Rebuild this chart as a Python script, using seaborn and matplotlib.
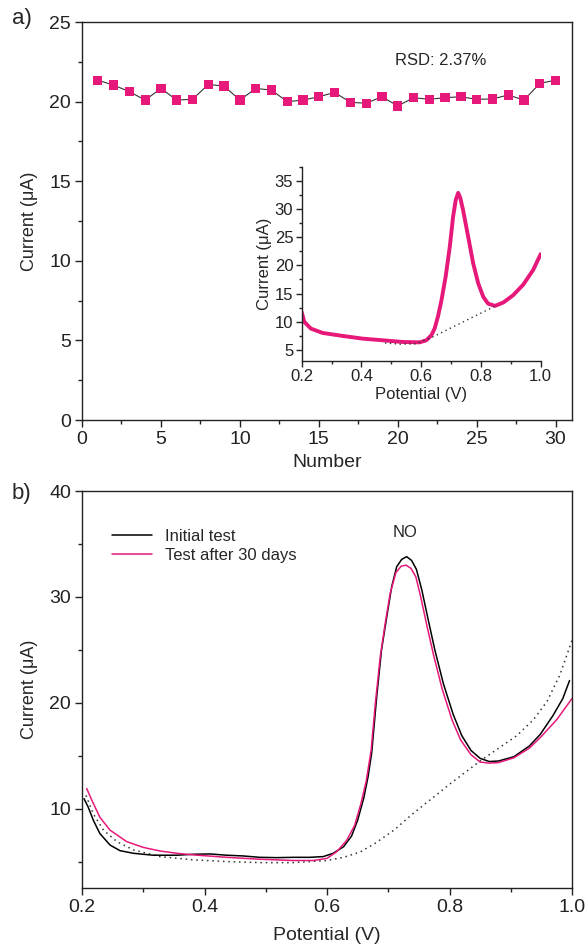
import matplotlib
matplotlib.use("Agg")
import matplotlib.pyplot as plt
from matplotlib.ticker import MultipleLocator
import numpy as np
import pandas as pd
import seaborn as sns

PINK = "#E6187A"

# panel a) repeated measurements
number = list(range(1, 31))
current_a = [21.35, 21.04, 20.63, 20.10, 20.83, 20.10, 20.15, 21.08, 20.98, 20.10,
             20.83, 20.73, 20.00, 20.10, 20.31, 20.58, 19.96, 19.90, 20.31, 19.73,
             20.25, 20.15, 20.25, 20.31, 20.15, 20.17, 20.42, 20.10, 21.15, 21.35]

# inset DPV curve
inset_v = [0.200, 0.209, 0.231, 0.270, 0.338, 0.405, 0.472, 0.539, 0.595, 0.617,
           0.634, 0.645, 0.656, 0.668, 0.682, 0.696, 0.707, 0.716, 0.724, 0.731,
           0.740, 0.757, 0.774, 0.791, 0.808, 0.824, 0.847, 0.875, 0.908, 0.942,
           0.975, 1.000]
inset_i = [11.7, 9.95, 8.76, 7.99, 7.45, 6.97, 6.68, 6.38, 6.32, 6.67,
           7.56, 8.76, 10.85, 13.8, 18.0, 23.4, 28.7, 31.7, 32.9, 32.0,
           29.9, 25.2, 20.4, 16.8, 14.4, 13.2, 12.8, 13.4, 14.7, 16.6,
           19.2, 22.0]
inset_base_v = [0.479, 0.530, 0.580, 0.636, 0.845]
inset_base_i = [6.2, 6.0, 6.05, 7.2, 12.7]

# panel b) initial test vs after 30 days
init_v = [0.2033, 0.210, 0.2185, 0.229, 0.2457, 0.262, 0.284, 0.316, 0.355, 0.382,
          0.409, 0.436, 0.463, 0.490, 0.518, 0.545, 0.572, 0.594, 0.610, 0.627,
          0.640, 0.650, 0.660, 0.667, 0.673, 0.681, 0.689, 0.6975, 0.7056, 0.7138,
          0.722, 0.730, 0.738, 0.746, 0.755, 0.765, 0.776, 0.790, 0.806, 0.820,
          0.835, 0.850, 0.865, 0.880, 0.905, 0.930, 0.948, 0.969, 0.985, 0.996]
init_i = [10.94, 10.15, 8.9, 7.66, 6.56, 6.03, 5.78, 5.6, 5.6, 5.69,
          5.72, 5.6, 5.53, 5.4, 5.37, 5.4, 5.4, 5.47, 5.78, 6.4,
          7.4, 8.9, 11.0, 13.0, 15.3, 20.5, 25.0, 28.1, 30.97, 32.86,
          33.55, 33.8, 33.45, 32.6, 30.6, 27.9, 25.0, 21.8, 18.9, 16.9,
          15.5, 14.75, 14.45, 14.5, 14.9, 15.9, 17.0, 18.8, 20.4, 22.1]
after_v = [0.2076, 0.216, 0.229, 0.2457, 0.273, 0.300, 0.327, 0.355, 0.382, 0.436,
           0.490, 0.545, 0.578, 0.600, 0.616, 0.632, 0.645, 0.655, 0.664, 0.672,
           0.679, 0.687, 0.695, 0.703, 0.7125, 0.721, 0.729, 0.737, 0.745, 0.753,
           0.763, 0.774, 0.788, 0.804, 0.818, 0.835, 0.850, 0.865, 0.880, 0.905,
           0.930, 0.948, 0.975, 1.000]
after_i = [11.9, 10.8, 9.2, 7.97, 6.88, 6.34, 6.0, 5.78, 5.63, 5.4,
           5.22, 5.1, 5.1, 5.3, 5.94, 7.0, 8.4, 10.4, 12.6, 15.5,
           20.0, 24.4, 27.5, 30.3, 32.3, 32.9, 33.0, 32.7, 31.9, 30.0,
           27.3, 24.5, 21.3, 18.4, 16.5, 15.1, 14.4, 14.3, 14.35, 14.8,
           15.7, 16.7, 18.4, 20.4]
base_v = [0.2065, 0.2185, 0.235, 0.257, 0.284, 0.327, 0.382, 0.436, 0.490, 0.545,
          0.600, 0.627, 0.654, 0.678, 0.710, 0.739, 0.770, 0.800, 0.850, 0.910,
          0.937, 0.959, 0.980, 1.000]
base_i = [11.25, 9.5, 7.97, 6.88, 6.1, 5.47, 5.16, 5.0, 4.9, 4.9,
          5.1, 5.4, 5.9, 6.7, 8.0, 9.47, 10.9, 12.3, 14.5, 16.9,
          18.4, 20.1, 22.6, 25.9]

sns.set_theme(style="ticks")
plt.rcParams["font.family"] = ["Liberation Sans", "DejaVu Sans"]
plt.rcParams["axes.linewidth"] = 1.0
plt.rcParams["xtick.direction"] = "out"
plt.rcParams["ytick.direction"] = "out"

fig = plt.figure(figsize=(5.88, 9.52), dpi=100)
ax1 = fig.add_axes([0.1395, 0.5588, 0.8333, 0.418])
ax2 = fig.add_axes([0.1395, 0.0672, 0.8333, 0.417])
axin = fig.add_axes([0.513, 0.6208, 0.4065, 0.2038])


def style_axis(ax, size):
    for s in ax.spines.values():
        s.set_color("#222222")
    ax.tick_params(which="major", length=5, width=1, labelsize=size, colors="#222222", pad=3)
    ax.tick_params(which="minor", length=3, width=1, colors="#222222")
    ax.tick_params(top=False, right=False, which="both")


# panel a
df_a = pd.DataFrame({"Number": number, "Current": current_a})
sns.lineplot(data=df_a, x="Number", y="Current", color="#333333", lw=0.8, ax=ax1)
sns.scatterplot(data=df_a, x="Number", y="Current", marker="s", s=45, color=PINK,
                edgecolor="none", ax=ax1, zorder=3)
ax1.set_xlim(0, 31.04)
ax1.set_ylim(0, 25)
ax1.xaxis.set_major_locator(MultipleLocator(5))
ax1.xaxis.set_minor_locator(MultipleLocator(2.5))
ax1.yaxis.set_major_locator(MultipleLocator(5))
ax1.yaxis.set_minor_locator(MultipleLocator(2.5))
style_axis(ax1, 14)
ax1.set_xlabel("Number", fontsize=14, labelpad=4)
ax1.set_ylabel("Current (\u03bcA)", fontsize=13, labelpad=8)
ax1.text(19.8, 22.6, "RSD: 2.37%", fontsize=12, va="center", ha="left")

# inset
sns.lineplot(x=inset_v, y=inset_i, color=PINK, lw=2.8, ax=axin, sort=False)
sns.lineplot(x=inset_base_v, y=inset_base_i, color="#333333", lw=1.0, ls=(0, (1, 2.5)),
             ax=axin, sort=False)
axin.set_xlim(0.2, 1.0)
axin.set_ylim(3, 37.5)
axin.xaxis.set_major_locator(MultipleLocator(0.2))
axin.xaxis.set_minor_locator(MultipleLocator(0.1))
axin.yaxis.set_major_locator(MultipleLocator(5))
axin.yaxis.set_minor_locator(MultipleLocator(2.5))
axin.spines["top"].set_visible(False)
axin.spines["right"].set_visible(False)
axin.patch.set_alpha(0)
style_axis(axin, 12)
axin.tick_params(which="major", length=4, pad=2)
axin.tick_params(which="minor", length=2)
axin.set_xlabel("Potential (V)", fontsize=12, labelpad=2)
axin.set_ylabel("Current (\u03bcA)", fontsize=12, labelpad=2)

# panel b
sns.lineplot(x=base_v, y=base_i, color="#333333", lw=1.1, ls=(0, (1, 2.5)), ax=ax2, sort=False)
sns.lineplot(x=init_v, y=init_i, color="black", lw=1.1, ax=ax2, sort=False, label="Initial test")
sns.lineplot(x=after_v, y=after_i, color=PINK, lw=1.1, ax=ax2, sort=False,
             label="Test after 30 days")
ax2.set_xlim(0.2, 1.0)
ax2.set_ylim(2.5, 40)
ax2.xaxis.set_major_locator(MultipleLocator(0.2))
ax2.xaxis.set_minor_locator(MultipleLocator(0.1))
ax2.yaxis.set_major_locator(MultipleLocator(10))
ax2.yaxis.set_minor_locator(MultipleLocator(5))
style_axis(ax2, 14)
ax2.set_xlabel("Potential (V)", fontsize=14, labelpad=8)
ax2.set_ylabel("Current (\u03bcA)", fontsize=13, labelpad=8)
ax2.text(0.728, 36.1, "NO", fontsize=12, ha="center", va="center")
ax2.legend(loc="upper left", bbox_to_anchor=(0.03, 0.943), frameon=False, fontsize=12,
           handlelength=2.4, handletextpad=0.8, labelspacing=0.25)

fig.text(0.02, 0.981, "a)", fontsize=16, va="center", ha="left")
fig.text(0.02, 0.482, "b)", fontsize=16, va="center", ha="left")

fig.savefig("out.png", dpi=100)
